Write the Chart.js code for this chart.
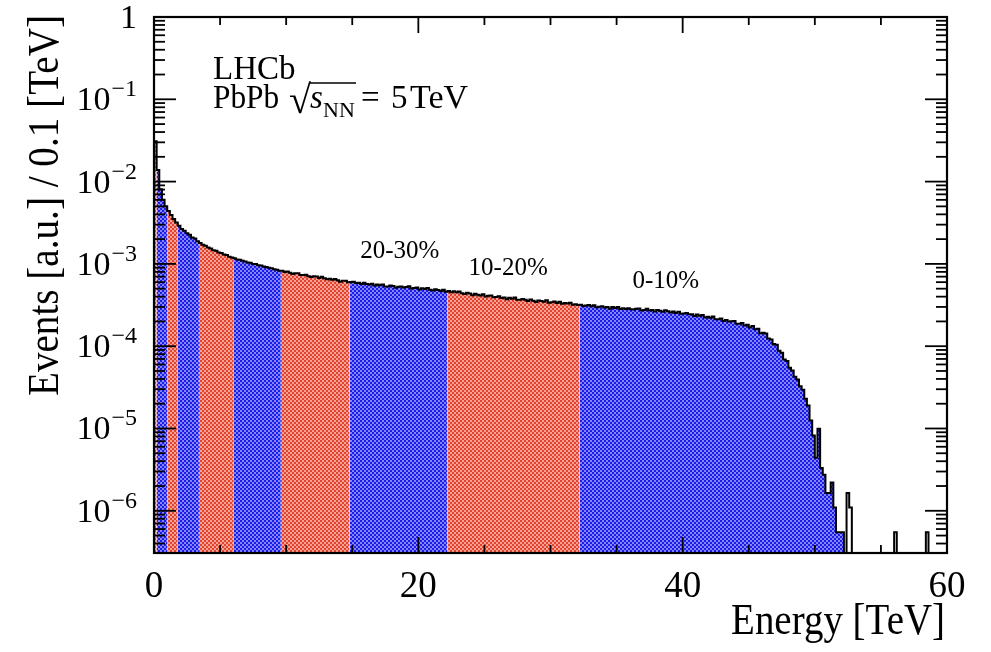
<!DOCTYPE html>
<html>
<head>
<meta charset="utf-8">
<script src="https://cdn.jsdelivr.net/npm/chart.js@4.4.1/dist/chart.umd.min.js"></script>
<style>
html, body { margin: 0; padding: 0; background: #ffffff; }
#wrap { width: 991px; height: 652px; }
</style>
</head>
<body>
<div id="wrap"><canvas id="c" width="991" height="652"></canvas></div>
<script>
// ---------------- data ----------------
const BIN_WIDTH = 0.2;            // TeV, width of one histogram bin
const X_MIN = 0, X_MAX = 60;      // TeV
const Y_MIN = 3.07e-7, Y_MAX = 1; // Events [a.u.]

const xTickValues = [0, 20, 40, 60];
const xTickLabels = ['0', '20', '40', '60'];
const yTickValues = [1, 1e-1, 1e-2, 1e-3, 1e-4, 1e-5, 1e-6];
const yTickBase = ['1', '10', '10', '10', '10', '10', '10'];
const yTickExponent = ['', '−1', '−2', '−3', '−4', '−5', '−6'];

// centrality classes (low energy -> high energy) and their energy boundaries
const classLabels = ['90-100%', '80-90%', '70-80%', '60-70%', '50-60%', '40-50%', '30-40%', '20-30%', '10-20%', '0-10%'];
const classEdges  = [0, 0.2, 1.0, 1.8, 3.4, 6.0, 9.6, 14.8, 22.2, 32.2, 52.2];
const classColors = ['red', 'blue', 'red', 'blue', 'red', 'blue', 'red', 'blue', 'red', 'blue'];
const labelledClasses = ['20-30%', '10-20%', '0-10%'];

// bin contents per class (one value per 0.2 TeV bin)
const c90_100 = [3.1e-2];
const c80_90 = [1.38e-2, 8.1e-3, 6.0e-3, 5.0e-3];
const c70_80 = [4.39e-3, 3.93e-3, 3.51e-3, 3.18e-3];
const c60_70 = [2.90e-3, 2.66e-3, 2.53e-3, 2.36e-3, 2.26e-3, 2.10e-3, 2.03e-3, 1.89e-3];
const c50_60 = [1.80e-3, 1.71e-3, 1.66e-3, 1.58e-3, 1.54e-3, 1.47e-3, 1.44e-3, 1.38e-3, 1.36e-3, 1.30e-3,
                1.28e-3, 1.22e-3, 1.20e-3];
const c40_50 = [1.17e-3, 1.13e-3, 1.12e-3, 1.09e-3, 1.07e-3, 1.04e-3, 1.03e-3, 1.00e-3, 9.95e-4, 9.62e-4,
                9.55e-4, 9.30e-4, 9.20e-4, 8.95e-4, 8.85e-4, 8.60e-4, 8.50e-4, 8.25e-4];
const c30_40 = [8.27e-4, 7.98e-4, 8.11e-4, 7.83e-4, 7.56e-4, 7.68e-4, 7.71e-4, 7.34e-4, 7.33e-4, 7.38e-4,
                7.07e-4, 6.93e-4, 7.06e-4, 7.05e-4, 6.76e-4, 6.98e-4, 6.70e-4, 6.50e-4, 6.62e-4, 6.42e-4,
                6.54e-4, 6.34e-4, 6.08e-4, 6.26e-4, 6.25e-4, 6.00e-4];
const c20_30 = [6.01e-4, 6.07e-4, 5.84e-4, 5.91e-4, 5.68e-4, 5.92e-4, 5.70e-4, 5.60e-4, 5.73e-4, 5.47e-4,
                5.60e-4, 5.49e-4, 5.61e-4, 5.30e-4, 5.33e-4, 5.46e-4, 5.37e-4, 5.13e-4, 5.26e-4, 5.33e-4,
                5.16e-4, 5.23e-4, 5.35e-4, 5.01e-4, 5.09e-4, 5.16e-4, 4.88e-4, 5.05e-4, 4.97e-4, 5.10e-4,
                4.85e-4, 4.76e-4, 4.92e-4, 4.83e-4, 4.70e-4, 4.85e-4, 4.59e-4];
const c10_20 = [4.68e-4, 4.51e-4, 4.65e-4, 4.52e-4, 4.62e-4, 4.41e-4, 4.32e-4, 4.47e-4, 4.38e-4, 4.17e-4,
                4.35e-4, 4.22e-4, 4.14e-4, 4.27e-4, 4.03e-4, 4.11e-4, 4.12e-4, 3.92e-4, 3.97e-4, 4.05e-4,
                3.86e-4, 3.91e-4, 3.72e-4, 3.89e-4, 3.78e-4, 3.90e-4, 3.66e-4, 3.66e-4, 3.74e-4, 3.68e-4,
                3.54e-4, 3.70e-4, 3.57e-4, 3.44e-4, 3.60e-4, 3.55e-4, 3.46e-4, 3.61e-4, 3.38e-4, 3.43e-4,
                3.48e-4, 3.36e-4, 3.47e-4, 3.28e-4, 3.36e-4, 3.30e-4, 3.37e-4, 3.18e-4, 3.24e-4, 3.16e-4];
const c0_10 = [3.19e-4, 3.08e-4, 3.12e-4, 3.16e-4, 3.05e-4, 3.14e-4, 2.98e-4, 3.02e-4, 3.06e-4, 2.96e-4,
               3.00e-4, 2.86e-4, 3.00e-4, 2.92e-4, 2.99e-4, 2.83e-4, 2.90e-4, 2.83e-4, 2.90e-4, 2.82e-4,
               2.79e-4, 2.86e-4, 2.87e-4, 2.72e-4, 2.76e-4, 2.86e-4, 2.71e-4, 2.75e-4, 2.64e-4, 2.75e-4,
               2.69e-4, 2.63e-4, 2.74e-4, 2.66e-4, 2.56e-4, 2.64e-4, 2.54e-4, 2.63e-4, 2.48e-4, 2.50e-4,
               2.53e-4, 2.44e-4, 2.45e-4, 2.33e-4, 2.42e-4, 2.34e-4, 2.39e-4, 2.23e-4, 2.28e-4, 2.21e-4,
               2.29e-4, 2.13e-4, 2.13e-4, 2.17e-4, 2.02e-4, 2.08e-4, 1.99e-4, 2.01e-4, 2.03e-4, 1.88e-4,
               1.88e-4, 1.91e-4, 1.78e-4, 1.82e-4, 1.69e-4, 1.76e-4, 1.61e-4, 1.63e-4, 1.44e-4, 1.46e-4,
               1.43e-4, 1.24e-4, 1.21e-4, 1.06e-4, 1.04e-4, 8.81e-5, 8.34e-5, 6.90e-5, 6.62e-5, 5.48e-5,
               5.05e-5, 4.25e-5, 3.95e-5, 3.25e-5, 2.95e-5, 2.30e-5, 1.90e-5, 1.25e-5, 8.2e-6, 4.4e-6,
               9.9e-6, 3.3e-6, 2.75e-6, 1.65e-6, 1.65e-6, 2.2e-6, 1.1e-6, 5.5e-7, 5.5e-7, 5.5e-7];
// bins above the 0-10% class (52.2 - 60 TeV), mostly empty
const tailValues = [0, 1.65e-6, 1.1e-6, 0, 0, 0, 0, 0, 0, 0,
                    0, 0, 0, 0, 0, 0, 0, 0, 0, 5.5e-7,
                    0, 0, 0, 0, 0, 0, 0, 0, 0, 0,
                    0, 5.5e-7, 0, 0, 0, 0, 0, 0, 0];

const classValues = [c90_100, c80_90, c70_80, c60_70, c50_60, c40_50, c30_40, c20_30, c10_20, c0_10];

// ---------------- styling ----------------
const SERIF = "'Liberation Serif', 'Times New Roman', serif";
const canvas = document.getElementById('c');
const ctx0 = canvas.getContext('2d');
function checker(dark, light) {
  const c = document.createElement('canvas');
  c.width = 4; c.height = 4;
  const g = c.getContext('2d');
  g.fillStyle = light; g.fillRect(0, 0, 4, 4);
  g.fillStyle = dark; g.fillRect(0, 0, 2, 2); g.fillRect(2, 2, 2, 2);
  return ctx0.createPattern(c, 'repeat');
}
const fills = {
  blue: checker('#1c1ce8', '#8585ff'),
  red: checker('#e2432f', '#f6a194')
};

// ---------------- build datasets ----------------
const binEdge = i => Math.round(i * BIN_WIDTH * 10) / 10;
const clampY = v => Math.max(v, Y_MIN);

let offset = 0;
const bandDatasets = classValues.map((vals, k) => {
  const pts = vals.map((v, j) => ({ x: binEdge(offset + j), y: clampY(v) }));
  pts.push({ x: classEdges[k + 1], y: clampY(vals[vals.length - 1]) });
  offset += vals.length;
  return {
    label: classLabels[k],
    data: pts,
    stepped: true,
    borderWidth: 0,
    borderColor: 'rgba(0,0,0,0)',
    backgroundColor: fills[classColors[k]],
    fill: 'start',
    pointRadius: 0,
    order: 2
  };
});

const allValues = [].concat(...classValues, tailValues);
const outlinePts = allValues.map((v, i) => ({ x: binEdge(i), y: clampY(v) }));
outlinePts.push({ x: X_MAX, y: clampY(allValues[allValues.length - 1]) });
const outlineDataset = {
  label: 'Energy',
  data: outlinePts,
  stepped: true,
  borderColor: '#000000',
  borderWidth: 2,
  fill: false,
  pointRadius: 0,
  order: 0
};

// ---------------- ROOT-style frame, ticks and text ----------------
function txt(ctx, s, x, y, font, align, sx) {
  ctx.save();
  ctx.translate(x, y);
  ctx.scale(sx || 1, 1);
  ctx.font = font;
  ctx.textAlign = align || 'left';
  ctx.textBaseline = 'alphabetic';
  ctx.fillText(s, 0, 0);
  ctx.restore();
}

const rootFrame = {
  id: 'rootFrame',
  afterDatasetsDraw(chart) {
    const { ctx, chartArea: a, scales: { x, y } } = chart;
    ctx.save();
    ctx.strokeStyle = '#000';
    ctx.fillStyle = '#000';
    ctx.lineWidth = 1.8;
    const seg = (x1, y1, x2, y2) => { ctx.beginPath(); ctx.moveTo(x1, y1); ctx.lineTo(x2, y2); ctx.stroke(); };
    // x ticks (bottom & top), minor every 5 TeV
    for (let v = X_MIN; v <= X_MAX; v += 5) {
      const px = x.getPixelForValue(v);
      const len = (v % 20 === 0) ? 16 : 8;
      seg(px, a.bottom, px, a.bottom - len);
      seg(px, a.top, px, a.top + len);
    }
    // y ticks (left & right), log minor ticks
    for (let e = -7; e <= 0; e++) {
      for (let m = 1; m <= 9; m++) {
        const v = m * Math.pow(10, e);
        if (v < Y_MIN || v > Y_MAX * 1.0001) continue;
        const py = y.getPixelForValue(v);
        const len = (m === 1) ? 22 : 11;
        seg(a.left, py, a.left + len, py);
        seg(a.right, py, a.right - len, py);
      }
    }
    // frame
    ctx.lineWidth = 2.2;
    ctx.strokeRect(a.left, a.top, a.right - a.left, a.bottom - a.top);

    // y tick labels
    yTickValues.forEach((v, i) => {
      const py = y.getPixelForValue(v);
      const right = a.left - 17;
      if (yTickExponent[i] === '') {
        txt(ctx, yTickBase[i], right, py + 11, '34px ' + SERIF, 'right');
      } else {
        ctx.font = '24px ' + SERIF;
        const w = ctx.measureText(yTickExponent[i]).width;
        txt(ctx, yTickExponent[i], right, py - 3, '24px ' + SERIF, 'right');
        txt(ctx, yTickBase[i], right - w - 1, py + 11, '34px ' + SERIF, 'right');
      }
    });
    // x tick labels
    xTickValues.forEach((v, i) => {
      txt(ctx, xTickLabels[i], x.getPixelForValue(v), a.bottom + 44, '37px ' + SERIF, 'center');
    });
    // axis titles
    txt(ctx, 'Energy [TeV]', a.right - 2, a.bottom + 81, '44px ' + SERIF, 'right', 0.885);
    ctx.save();
    ctx.translate(58, a.top - 2);
    ctx.rotate(-Math.PI / 2);
    ctx.scale(0.87, 1);
    ctx.font = '45px ' + SERIF;
    ctx.textAlign = 'right';
    ctx.textBaseline = 'alphabetic';
    ctx.fillText('Events [a.u.] / 0.1 [TeV]', 0, 0);
    ctx.restore();

    // experiment label
    txt(ctx, 'LHCb', 213, 79, '33px ' + SERIF, 'left');
    txt(ctx, 'PbPb', 213, 108, '33px ' + SERIF, 'left', 0.95);
    txt(ctx, '√', 289, 113, '40px ' + SERIF, 'left');
    ctx.lineWidth = 1.6;
    seg(309, 83, 356, 83);
    txt(ctx, 's', 310, 108, 'italic 33px ' + SERIF, 'left');
    txt(ctx, 'NN', 323, 117, '22px ' + SERIF, 'left');
    txt(ctx, '=', 361, 108, '33px ' + SERIF, 'left');
    txt(ctx, '5', 391, 108, '33px ' + SERIF, 'left');
    txt(ctx, 'TeV', 410, 108, '34px ' + SERIF, 'left');

    // centrality class labels (placed in data coordinates)
    const labelPos = { '20-30%': [15.6, 1.18e-3], '10-20%': [23.8, 7.33e-4], '0-10%': [36.2, 5.09e-4] };
    labelledClasses.forEach(lbl => {
      const p = labelPos[lbl];
      txt(ctx, lbl, x.getPixelForValue(p[0]), y.getPixelForValue(p[1]), '25px ' + SERIF, 'left');
    });
    ctx.restore();
  }
};

new Chart(canvas, {
  type: 'line',
  data: { datasets: [outlineDataset, ...bandDatasets] },
  options: {
    responsive: false,
    animation: false,
    devicePixelRatio: 1,
    layout: { autoPadding: false, padding: { left: 154, right: 44, top: 17, bottom: 99 } },
    elements: { line: { tension: 0 } },
    plugins: { legend: { display: false }, tooltip: { enabled: false }, title: { display: false } },
    scales: {
      x: { type: 'linear', min: X_MIN, max: X_MAX, display: false },
      y: { type: 'logarithmic', min: Y_MIN, max: Y_MAX, display: false }
    }
  },
  plugins: [rootFrame]
});
</script>
</body>
</html>
